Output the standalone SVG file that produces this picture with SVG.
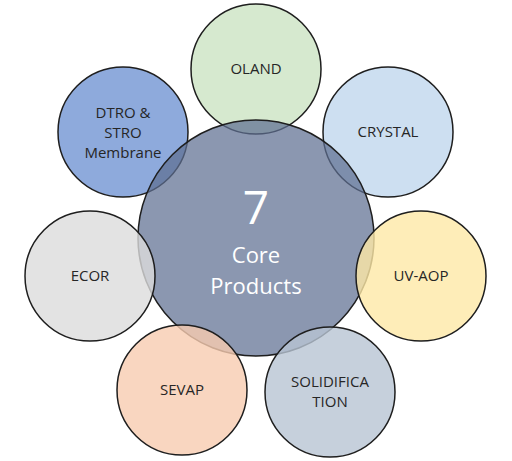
<svg xmlns="http://www.w3.org/2000/svg" width="512" height="461" viewBox="0 0 512 461">
<style>
circle{stroke:#1e1e1e;stroke-width:1.5}
.lbl{font-family:"Open Sans","Liberation Sans",Arial,sans-serif;font-size:15px;fill:#262626;text-anchor:middle}
.ctr{font-family:"Open Sans","Liberation Sans",sans-serif;fill:#ffffff;text-anchor:middle}
</style>
<rect width="512" height="461" fill="#ffffff"/>
<g id="oland"><circle cx="256" cy="69" r="65" fill="#d6e9cf"/><text class="lbl" x="256" y="74">OLAND</text></g>
<g id="dtro"><circle cx="123" cy="132" r="65" fill="#8eaadc"/><text class="lbl" x="123" y="118">DTRO &amp;</text><text class="lbl" x="123" y="138">STRO</text><text class="lbl" x="123" y="158">Membrane</text></g>
<g id="crystal"><circle cx="388" cy="132" r="65" fill="#cddff1"/><text class="lbl" x="388" y="137">CRYSTAL</text></g>
<g id="core"><circle cx="256" cy="238" r="118" fill="#5e6f91" fill-opacity="0.72"/>
<text class="ctr" x="256" y="224" font-size="46">7</text>
<text class="ctr" x="256" y="263" font-size="22">Core</text>
<text class="ctr" x="256" y="294" font-size="22">Products</text></g>
<g id="ecor"><circle cx="90" cy="276" r="65" fill="#dcdcdc" fill-opacity="0.8"/><text class="lbl" x="90" y="281">ECOR</text></g>
<g id="uvaop"><circle cx="421" cy="276" r="65" fill="#fee8a6" fill-opacity="0.8"/><text class="lbl" x="421" y="281">UV-AOP</text></g>
<g id="sevap"><circle cx="182" cy="390" r="65" fill="#f8ccb0" fill-opacity="0.8"/><text class="lbl" x="182" y="395">SEVAP</text></g>
<g id="solid"><circle cx="330" cy="392" r="65" fill="#b8c4d3" fill-opacity="0.8"/><text class="lbl" x="330" y="387">SOLIDIFICA</text><text class="lbl" x="330" y="407">TION</text></g>
<g id="connectors"/>
</svg>
